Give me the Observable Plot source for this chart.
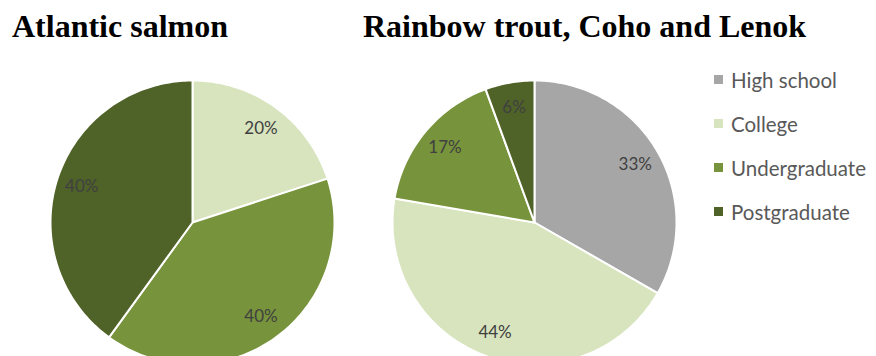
<!DOCTYPE html>
<html><head><meta charset="utf-8">
<script src="https://cdn.jsdelivr.net/npm/d3@7"></script>
<script src="https://cdn.jsdelivr.net/npm/@observablehq/plot@0.6"></script>
<style>
body{margin:0;background:#fff;}
#wrap{position:relative;width:876px;height:356px;overflow:hidden;background:#fff;}
.title{position:absolute;font-family:"Liberation Serif","Times New Roman",serif;font-weight:bold;font-size:32px;color:#000;white-space:nowrap;line-height:1;}
.pie{position:absolute;}
.item{position:absolute;left:714px;height:24px;display:flex;align-items:center;white-space:nowrap;font-family:Lato,sans-serif;font-size:20.5px;color:#595959;}
.sw{width:9px;height:9px;margin-right:8px;flex:none;}
</style></head><body>
<div id="wrap"></div>
<script>
// ---- data ----
const categories = ["High school", "College", "Undergraduate", "Postgraduate"];
const colors = ["#a6a6a6", "#d7e4bd", "#77933c", "#4f6228"];
const titles = ["Atlantic salmon", "Rainbow trout, Coho and Lenok"];
const salmonShares = [0, 20, 40, 40];          // percent
const troutShares = [33.3, 44.4, 16.7, 5.6];    // percent

const wrap = document.getElementById("wrap");
const R = 142;

function pieData(shares) {
  const total = d3.sum(shares);
  const pts = [], labels = [];
  let acc = 0;
  shares.forEach((v, i) => {
    const a0 = acc / total * 2 * Math.PI;
    acc += v;
    const a1 = acc / total * 2 * Math.PI;
    if (v <= 0) return;
    const cat = categories[i];
    pts.push({cat, x: 0, y: 0});
    const n = Math.max(2, Math.ceil((a1 - a0) / (Math.PI / 180)));
    for (let k = 0; k <= n; k++) {
      const a = a0 + (a1 - a0) * k / n;
      pts.push({cat, x: R * Math.sin(a), y: R * Math.cos(a)});
    }
    pts.push({cat, x: 0, y: 0});
    const am = (a0 + a1) / 2;
    labels.push({cat, x: 0.82 * R * Math.sin(am), y: 0.82 * R * Math.cos(am), text: Math.round(v / total * 100) + "%"});
  });
  return {pts, labels};
}

function drawPie(shares, cx, cy) {
  const {pts, labels} = pieData(shares);
  const S = 150;
  const svg = Plot.plot({
    width: 2 * S, height: 2 * S, margin: 0,
    x: {domain: [-S, S], axis: null},
    y: {domain: [-S, S], axis: null},
    color: {domain: categories, range: colors},
    marks: [
      Plot.line(pts, {x: "x", y: "y", z: "cat", fill: "cat", stroke: "white", strokeWidth: 2, strokeLinejoin: "round", curve: "linear"}),
      Plot.text(labels, {x: "x", y: "y", text: "text", fill: "#404040", fontSize: 17, fontFamily: "Lato, sans-serif"})
    ],
    style: {background: "transparent", overflow: "visible"}
  });
  svg.classList.add("pie");
  svg.style.left = (cx - S) + "px";
  svg.style.top = (cy - S) + "px";
  wrap.appendChild(svg);
}

drawPie(salmonShares, 192, 222);
drawPie(troutShares, 533.5, 221.5);

const titleX = [12, 363];
titles.forEach((t, i) => {
  const d = document.createElement("div");
  d.className = "title";
  d.textContent = t;
  d.style.left = titleX[i] + "px";
  d.style.top = "10px";
  wrap.appendChild(d);
});

categories.forEach((c, i) => {
  const d = document.createElement("div");
  d.className = "item";
  d.style.top = (79.5 + 44 * i - 12) + "px";
  const sw = document.createElement("div");
  sw.className = "sw";
  sw.style.background = colors[i];
  const tx = document.createElement("span");
  tx.textContent = c;
  d.appendChild(sw); d.appendChild(tx);
  wrap.appendChild(d);
});
</script>
</body></html>
